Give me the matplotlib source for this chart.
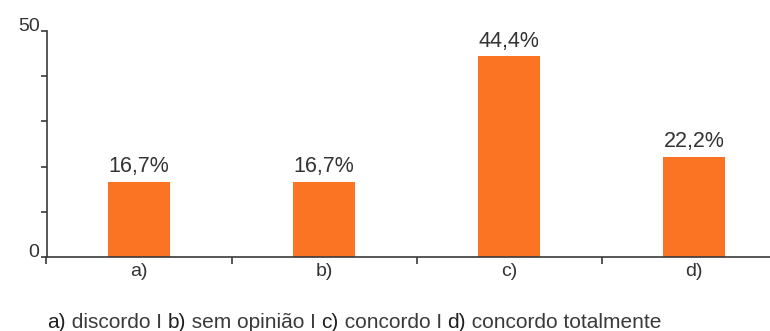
import numpy as np
import matplotlib
matplotlib.use("Agg")
import matplotlib.pyplot as plt

plt.rcParams['font.family'] = ['Liberation Sans', 'DejaVu Sans']

categories = ['a)', 'b)', 'c)', 'd)']
values = [16.7, 16.7, 44.4, 22.2]
value_labels = ['16,7%', '16,7%', '44,4%', '22,2%']
legend_parts = [('a)', ' discordo I '), ('b)', ' sem opinião I '),
                ('c)', ' concordo I '), ('d)', ' concordo totalmente')]

bar_color = '#fb7424'
ink = '#3a3a3a'

fig = plt.figure(figsize=(7.7, 3.31), dpi=100)
ax = fig.add_axes([46.5 / 770, 74 / 331, 1 - 46.5 / 770, (257 - 31) / 331])

x = np.arange(len(categories))
bars = ax.bar(x, values, width=0.335, color=bar_color, zorder=2)
for b, lab in zip(bars, value_labels):
    ax.annotate(lab, (b.get_x() + b.get_width() / 2, b.get_height()),
                xytext=(0, 3), textcoords='offset points',
                ha='center', va='bottom', fontsize=15.5, color='#333333')

# category boundaries carry the x ticks, names go on minor ticks at centers
ax.set_xticks(np.arange(-0.5, 3.0, 1.0))
ax.set_xticklabels([])
ax.set_xticks(x, minor=True)
ax.set_xticklabels(categories, minor=True)
ax.tick_params(axis='x', which='major', length=5, width=1.2, color=ink)
ax.tick_params(axis='x', which='minor', length=0, pad=4, labelsize=14, labelcolor='#333333')

ax.set_yticks(np.arange(0, 51, 10))
ax.set_yticklabels(['0', '', '', '', '', '50'])
ax.tick_params(axis='y', length=4, width=1.2, color=ink, pad=1,
               labelsize=14, labelcolor='#333333')
for lab in ax.get_yticklabels():
    lab.set_verticalalignment('baseline')

# limits last so the tick setters don't widen them
ax.set_xlim(-0.5, -0.5 + (770 - 46.5) / 185)
ax.set_ylim(0, 50)

for s in ['top', 'right']:
    ax.spines[s].set_visible(False)
for s in ['left', 'bottom']:
    ax.spines[s].set_color(ink)
    ax.spines[s].set_linewidth(1.2)

# caption below the axis, letters a)-d) a shade darker
fig.canvas.draw()
renderer = fig.canvas.get_renderer()
xpos = 47 / 770
for key, desc in legend_parts:
    for txt, c in [(key, '#1e1e1e'), (desc, '#3a3a3a')]:
        t = fig.text(xpos, 3 / 331, txt, fontsize=15, color=c,
                     ha='left', va='baseline')
        bb = t.get_window_extent(renderer)
        xpos += bb.width / fig.bbox.width

fig.savefig('out.png', dpi=100)
